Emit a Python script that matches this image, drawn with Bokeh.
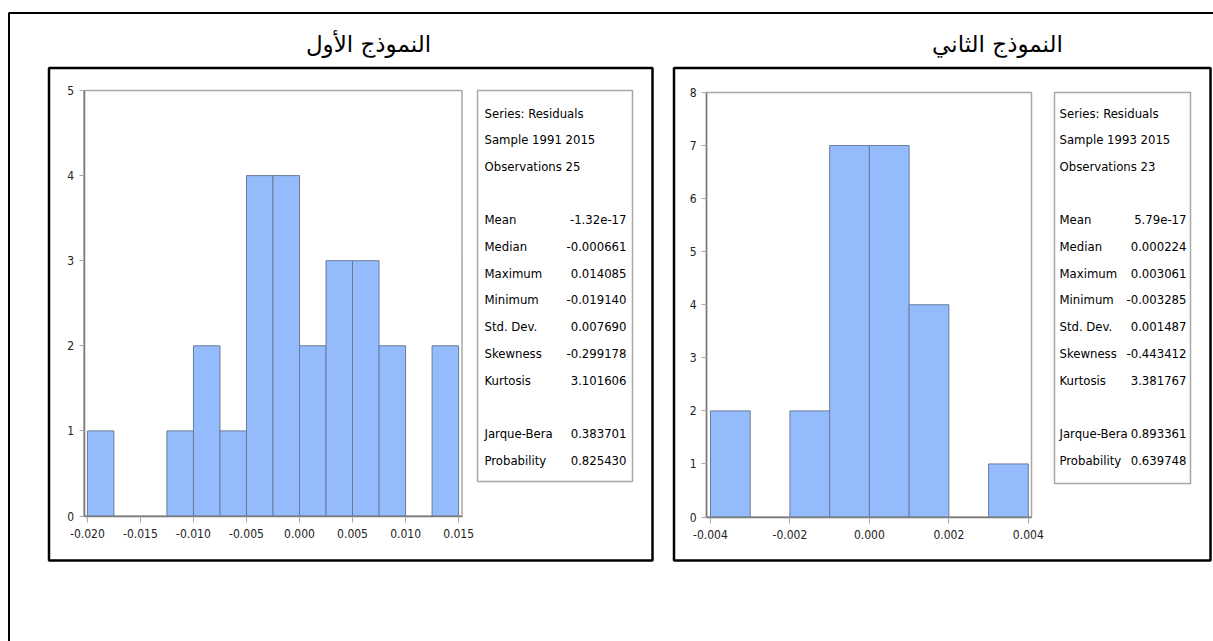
from bokeh.plotting import figure
from bokeh.models import Range1d, LinearAxis, FixedTicker, NumeralTickFormatter, ColumnDataSource
from bokeh.core.properties import value
from bokeh.embed import file_html
from bokeh.resources import INLINE

# ---- data -----------------------------------------------------------------
titles = ["النموذج الأول", "النموذج الثاني"]

# model 1 residual histogram (bin width 0.0025)
bins1_left = [-0.0200, -0.0175, -0.0150, -0.0125, -0.0100, -0.0075, -0.0050,
              -0.0025, 0.0000, 0.0025, 0.0050, 0.0075, 0.0100, 0.0125]
bins1_right = [-0.0175, -0.0150, -0.0125, -0.0100, -0.0075, -0.0050, -0.0025,
               0.0000, 0.0025, 0.0050, 0.0075, 0.0100, 0.0125, 0.0150]
counts1 = [1, 0, 0, 1, 2, 1, 4, 4, 2, 3, 3, 2, 0, 2]
xticks1 = [-0.020, -0.015, -0.010, -0.005, 0.000, 0.005, 0.010, 0.015]
yticks1 = [0, 1, 2, 3, 4, 5]

# model 2 residual histogram (bin width 0.001)
bins2_left = [-0.004, -0.003, -0.002, -0.001, 0.000, 0.001, 0.002, 0.003]
bins2_right = [-0.003, -0.002, -0.001, 0.000, 0.001, 0.002, 0.003, 0.004]
counts2 = [2, 0, 2, 7, 7, 4, 0, 1]
xticks2 = [-0.004, -0.002, 0.000, 0.002, 0.004]
yticks2 = [0, 1, 2, 3, 4, 5, 6, 7, 8]

# descriptive statistics
header1 = ["Series: Residuals", "Sample 1991 2015", "Observations 25"]
header2 = ["Series: Residuals", "Sample 1993 2015", "Observations 23"]
stat_names = ["Mean", "Median", "Maximum", "Minimum", "Std. Dev.",
              "Skewness", "Kurtosis"]
stats1 = ["-1.32e-17", "-0.000661", "0.014085", "-0.019140", "0.007690",
          "-0.299178", "3.101606"]
stats2 = ["5.79e-17", "0.000224", "0.003061", "-0.003285", "0.001487",
          "-0.443412", "3.381767"]
test_names = ["Jarque-Bera", "Probability"]
tests1 = ["0.383701", "0.825430"]
tests2 = ["0.893361", "0.639748"]

# ---- page canvas (pixel coordinates, y downwards) ---------------------------
W, H = 1213, 641
p = figure(width=W, height=H, x_range=Range1d(0, W), y_range=Range1d(H, 0),
           x_axis_type=None, y_axis_type=None, toolbar_location=None,
           output_backend="svg", min_border=0, outline_line_color=None)
p.grid.visible = False
p.background_fill_color = "white"
p.border_fill_color = "white"

NARROW = "'DejaVu Sans Condensed', 'Liberation Sans Narrow', Roboto, sans-serif"
BAR_FILL = "#94bcfd"
BAR_LINE = "#6a7a98"
FRAME_GRAY = "#a8a8a8"

# outer frame
p.line(x=[8.5, 8.5, W], y=[H, 12.5, 12.5], line_color="black", line_width=2)

# panel boxes
p.quad(left=[48.5, 673.5], right=[652, 1210], top=[67.5, 67.5], bottom=[560, 560],
       fill_color=None, line_color="black", line_width=2.5)

# panel titles
p.text(x=[368, 997], y=[43, 43], text=titles, text_align="center",
       text_baseline="middle", text_font=value("DejaVu Sans"),
       text_font_size="23px", text_color="black")


def add_histogram(name, frame_px, xlim, ylim, left, right, counts, xticks, yticks, xfmt):
    """Histogram drawn in its own data ranges, mapped onto a sub-rectangle of the page."""
    px_l, px_r, px_t, px_b = frame_px
    xlo, xhi = xlim
    ylo, yhi = ylim
    kx = (px_r - px_l) / (xhi - xlo)
    x0 = xlo - px_l / kx
    ky = (px_b - px_t) / (yhi - ylo)
    y0 = ylo - (H - px_b) / ky
    xr, yr = name + "_x", name + "_y"
    p.extra_x_ranges[xr] = Range1d(x0, x0 + W / kx)
    p.extra_y_ranges[yr] = Range1d(y0, y0 + H / ky)

    src = ColumnDataSource(dict(
        left=[l for l, c in zip(left, counts) if c > 0],
        right=[r for r, c in zip(right, counts) if c > 0],
        top=[c for c in counts if c > 0],
        bottom=[0 for c in counts if c > 0],
    ))
    # plot-area frame
    p.quad(left=[xlo], right=[xhi], bottom=[ylo], top=[yhi], fill_color="white",
           line_color=FRAME_GRAY, line_width=1.5, x_range_name=xr, y_range_name=yr)
    p.quad(left="left", right="right", top="top", bottom="bottom", source=src,
           fill_color=BAR_FILL, line_color=BAR_LINE, line_width=1,
           x_range_name=xr, y_range_name=yr)

    xa = LinearAxis(x_range_name=xr, y_range_name=yr, fixed_location=ylo,
                    bounds=(xlo, xhi), ticker=FixedTicker(ticks=xticks),
                    formatter=NumeralTickFormatter(format=xfmt))
    ya = LinearAxis(x_range_name=xr, y_range_name=yr, fixed_location=xlo,
                    bounds=(ylo, yhi), ticker=FixedTicker(ticks=yticks),
                    formatter=NumeralTickFormatter(format="0"))
    for ax in (xa, ya):
        ax.axis_line_color = "#7a7a7a"
        ax.axis_line_width = 1.5
        ax.major_tick_line_color = FRAME_GRAY
        ax.major_tick_in = 0
        ax.minor_tick_line_color = None
        ax.major_label_text_font = NARROW
        ax.major_label_text_font_size = "12px"
        ax.major_label_text_color = "#222222"
    xa.major_tick_out = 6
    xa.major_label_standoff = 7
    ya.major_tick_out = 5
    ya.major_label_standoff = 5
    p.add_layout(xa, "below")
    p.add_layout(ya, "left")


add_histogram("m1", (83.5, 461.5, 90.0, 515.5), (-0.02032, 0.01532), (0, 5),
              bins1_left, bins1_right, counts1, xticks1, yticks1, "0.000")
add_histogram("m2", (706.0, 1031.0, 92.0, 516.5), (-0.0041, 0.00408), (0, 8),
              bins2_left, bins2_right, counts2, xticks2, yticks2, "0.000")


def add_stats(box, label_x, value_x, header, stats, tests):
    bl, br, bt, bb = box
    p.quad(left=[bl], right=[br], top=[bt], bottom=[bb], fill_color="white",
           line_color=FRAME_GRAY, line_width=1.5)
    row0, step = 112.5, 26.7
    rows_h = [row0 + i * step for i in range(3)]
    rows_s = [row0 + (4 + i) * step for i in range(len(stat_names))]
    rows_t = [row0 + (12 + i) * step for i in range(len(test_names))]
    common = dict(text_baseline="middle", text_font=value(NARROW),
                  text_font_size="13px", text_color="black")
    p.text(x=[label_x] * 3, y=rows_h, text=header, text_align="left", **common)
    p.text(x=[label_x] * len(stat_names), y=rows_s, text=stat_names,
           text_align="left", **common)
    p.text(x=[value_x] * len(stats), y=rows_s, text=stats, text_align="right", **common)
    p.text(x=[label_x] * len(test_names), y=rows_t, text=test_names,
           text_align="left", **common)
    p.text(x=[value_x] * len(tests), y=rows_t, text=tests, text_align="right", **common)


add_stats((477, 632, 90, 481), 484, 626, header1, stats1, tests1)
add_stats((1054, 1190, 92, 483), 1059, 1186, header2, stats2, tests2)

open("out.html", "w").write(file_html(p, INLINE))
